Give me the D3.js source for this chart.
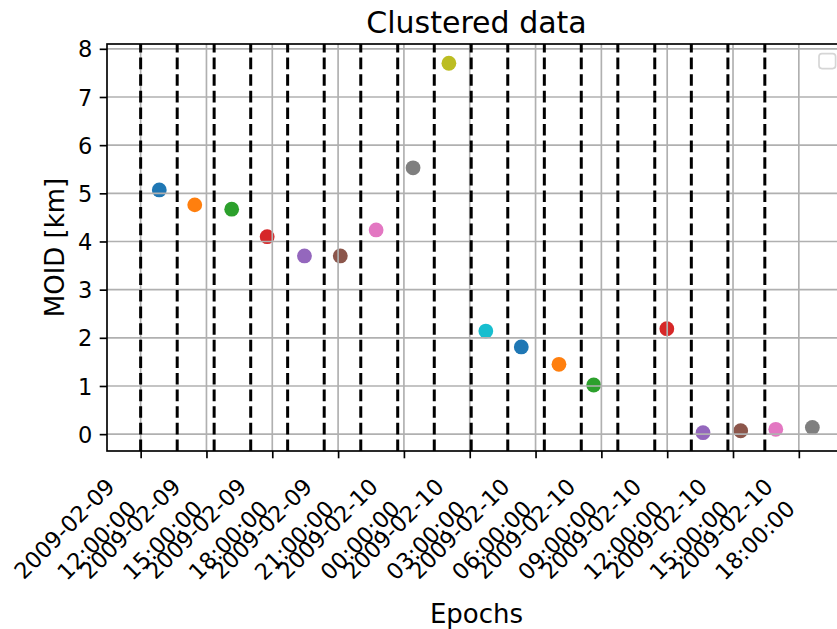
<!DOCTYPE html>
<html lang="en">
<head>
    <meta charset="UTF-8">
    <title>Clustered data</title>
    <script src="https://cdn.jsdelivr.net/npm/d3@7/dist/d3.min.js"></script>
    <style>
        body { margin: 0; background: #fff; }
        text { font-family: "DejaVu Sans", sans-serif; fill: #000; }
        .grid line { stroke: #b0b0b0; stroke-width: 1.67px; }
        .bound { stroke: #000; stroke-width: 3px; stroke-dasharray: 11.6 5; }
    </style>
</head>
<body>
<svg id="chart" width="837" height="629"></svg>
<script>
    // cluster boundaries (dashed lines)
    var boundaries = [
        '2009-02-09 12:00', '2009-02-09 13:40', '2009-02-09 15:21', '2009-02-09 17:01',
        '2009-02-09 18:42', '2009-02-09 20:22', '2009-02-09 22:02', '2009-02-09 23:43',
        '2009-02-10 01:23', '2009-02-10 03:04', '2009-02-10 04:44', '2009-02-10 06:24',
        '2009-02-10 08:05', '2009-02-10 09:45', '2009-02-10 11:26', '2009-02-10 13:06',
        '2009-02-10 14:46', '2009-02-10 16:27'
    ];

    // one point per cluster
    var epochs = [
        '2009-02-09 12:51', '2009-02-09 14:28', '2009-02-09 16:09', '2009-02-09 17:46',
        '2009-02-09 19:28', '2009-02-09 21:06', '2009-02-09 22:44', '2009-02-10 00:25',
        '2009-02-10 02:03', '2009-02-10 03:44', '2009-02-10 05:21', '2009-02-10 07:04',
        '2009-02-10 08:39', '2009-02-10 11:59', '2009-02-10 13:38', '2009-02-10 15:21',
        '2009-02-10 16:57', '2009-02-10 18:37'
    ];
    var moid = [5.07, 4.76, 4.67, 4.10, 3.70, 3.70, 4.24, 5.53, 7.70,
                2.14, 1.81, 1.45, 1.02, 2.19, 0.03, 0.07, 0.10, 0.14];

    var xTicks = [
        '2009-02-09 12:00', '2009-02-09 15:00', '2009-02-09 18:00', '2009-02-09 21:00',
        '2009-02-10 00:00', '2009-02-10 03:00', '2009-02-10 06:00', '2009-02-10 09:00',
        '2009-02-10 12:00', '2009-02-10 15:00', '2009-02-10 18:00'
    ];
    var yTicks = [0, 1, 2, 3, 4, 5, 6, 7, 8];
    var xDomain = ['2009-02-09 10:28', '2009-02-10 20:09'];
    var yDomain = [-0.35, 8.1];

    (function() {
        "use strict";

        var parse = d3.utcParse('%Y-%m-%d %H:%M');
        var fmtDate = d3.utcFormat('%Y-%m-%d');
        var fmtTime = d3.utcFormat('%H:%M:%S');

        var mLeft = 107, mRight = 846, mTop = 44, mBottom = 451;
        var tickFont = 22.5;

        var svg = d3.select('#chart');

        var x = d3.scaleUtc().domain(xDomain.map(parse)).range([mLeft, mRight]);
        var y = d3.scaleLinear().domain(yDomain).range([mBottom, mTop]);
        var color = d3.scaleOrdinal(d3.schemeCategory10);

        var points = epochs.map(function(e, i) { return { t: parse(e), v: moid[i], i: i }; });

        // points (under the grid, as in matplotlib)
        svg.append('g').selectAll('circle').data(points).enter().append('circle')
            .attr('cx', function(d) { return x(d.t); })
            .attr('cy', function(d) { return y(d.v); })
            .attr('r', 7.4)
            .attr('fill', function(d) { return color(d.i % 10); });

        // grid
        var grid = svg.append('g').attr('class', 'grid');
        grid.selectAll('line.gx').data(xTicks).enter().append('line')
            .attr('class', 'gx')
            .attr('x1', function(d) { return x(parse(d)); })
            .attr('x2', function(d) { return x(parse(d)); })
            .attr('y1', mBottom).attr('y2', mTop);
        grid.selectAll('line.gy').data(yTicks).enter().append('line')
            .attr('class', 'gy')
            .attr('x1', mLeft).attr('x2', mRight)
            .attr('y1', function(d) { return y(d); })
            .attr('y2', function(d) { return y(d); });

        // dashed boundaries, drawn bottom to top
        svg.append('g').selectAll('line').data(boundaries).enter().append('line')
            .attr('class', 'bound')
            .attr('x1', function(d) { return x(parse(d)); })
            .attr('x2', function(d) { return x(parse(d)); })
            .attr('y1', mBottom).attr('y2', mTop);

        // axes
        var xAxis = d3.axisBottom(x).tickValues(xTicks.map(parse)).tickSize(7.3).tickFormat('');
        var gx = svg.append('g').attr('transform', 'translate(0,' + mBottom + ')').call(xAxis);
        gx.select('.domain').remove();
        gx.selectAll('.tick text').remove();
        gx.selectAll('.tick line').attr('stroke', '#000').attr('stroke-width', 1.67);

        gx.selectAll('.tick').each(function(d) {
            var g = d3.select(this).append('g')
                .attr('transform', 'translate(-3,59) rotate(-45)');
            g.append('text').attr('x', 0).attr('y', -31)
                .attr('text-anchor', 'end').style('font-size', tickFont + 'px')
                .text(fmtDate(d));
            g.append('text').attr('x', 0).attr('y', 0)
                .attr('text-anchor', 'end').style('font-size', tickFont + 'px')
                .text(fmtTime(d));
        });

        var yAxis = d3.axisLeft(y).tickValues(yTicks).tickSize(7.3).tickPadding(7.3);
        var gy = svg.append('g').attr('transform', 'translate(' + mLeft + ',0)').call(yAxis);
        gy.select('.domain').remove();
        gy.selectAll('.tick line').attr('stroke', '#000').attr('stroke-width', 1.67);
        gy.selectAll('.tick text')
            .attr('fill', '#000')
            .style('font-family', '"DejaVu Sans", sans-serif')
            .style('font-size', tickFont + 'px')
            .attr('dy', '0.36em');

        // spines
        svg.append('rect')
            .attr('x', mLeft).attr('y', mTop)
            .attr('width', mRight - mLeft).attr('height', mBottom - mTop)
            .attr('fill', 'none').attr('stroke', '#000').attr('stroke-width', 1.67);

        // empty legend box (upper right)
        svg.append('rect')
            .attr('x', mRight - 10.4 - 16.6).attr('y', mTop + 9.6)
            .attr('width', 16.6).attr('height', 15)
            .attr('rx', 3)
            .attr('fill', '#fff').attr('fill-opacity', 0.8)
            .attr('stroke', '#d6d6d6').attr('stroke-width', 1.67);

        // title and labels
        svg.append('text')
            .attr('x', (mLeft + mRight) / 2).attr('y', 32.5)
            .attr('text-anchor', 'middle').style('font-size', '30px')
            .text('Clustered data');

        svg.append('text')
            .attr('x', (mLeft + mRight) / 2).attr('y', 623)
            .attr('text-anchor', 'middle').style('font-size', '26px')
            .text('Epochs');

        svg.append('text')
            .attr('transform', 'translate(64,' + ((mTop + mBottom) / 2) + ') rotate(-90)')
            .attr('text-anchor', 'middle').style('font-size', '26px')
            .text('MOID [km]');
    })();
</script>
</body>
</html>
